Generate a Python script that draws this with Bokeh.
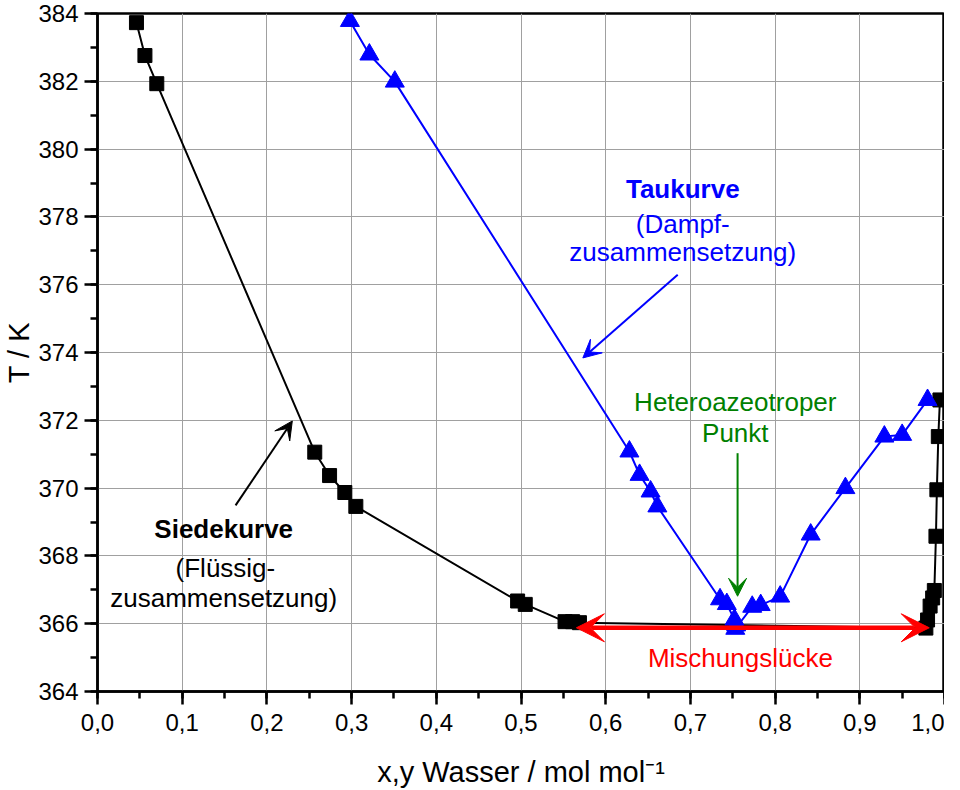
from bokeh.plotting import figure
from bokeh.models import (ColumnDataSource, Range1d, SingleIntervalTicker,
                          CustomJSTickFormatter, Arrow, VeeHead)
from bokeh.core.properties import value
from bokeh.embed import file_html
from bokeh.resources import INLINE

# Siedekurve (Flüssigzusammensetzung)
siede_x = [0.046, 0.056, 0.070, 0.2565, 0.274, 0.292, 0.305, 0.496, 0.505,
           0.552, 0.561, 0.569, 0.978, 0.980, 0.983, 0.986, 0.988, 0.9899,
           0.991, 0.9927, 0.9946]
siede_T = [383.73, 382.76, 381.93, 371.06, 370.37, 369.87, 369.46, 366.67, 366.57,
           366.06, 366.06, 366.03, 365.87, 366.11, 366.52, 366.76, 366.98, 368.58,
           369.95, 371.52, 372.60]

# Taukurve (Dampfzusammensetzung)
tau_y = [0.298, 0.321, 0.351, 0.628, 0.640, 0.653, 0.661, 0.735, 0.743, 0.752,
         0.754, 0.753, 0.773, 0.783, 0.806, 0.842, 0.883, 0.929, 0.950, 0.980]
tau_T = [383.78, 382.79, 381.99, 371.08, 370.39, 369.90, 369.46, 366.72, 366.58, 366.12,
         365.95, 365.85, 366.50, 366.55, 366.80, 368.63, 370.00, 371.52, 371.57, 372.60]

# Beschriftungen
lbl_x = [0.691, 0.691, 0.691, 0.149, 0.151, 0.149, 0.753, 0.753, 0.759]
lbl_T = [378.82, 377.79, 376.96, 368.79, 367.64, 366.76, 372.55, 371.62, 365.00]
lbl_text = ["Taukurve", "(Dampf-", "zusammensetzung)",
            "Siedekurve", "(Flüssig-", "zusammensetzung)",
            "Heteroazeotroper", "Punkt", "Mischungslücke"]
lbl_color = ["#0000ff", "#0000ff", "#0000ff", "black", "black", "black",
             "#008000", "#008000", "#ff0000"]
lbl_style = ["bold", "normal", "normal", "bold", "normal", "normal",
             "normal", "normal", "normal"]

# Pfeile: (x_start, T_start, x_end, T_end)
pfeil_siede = [0.163, 369.49, 0.230, 371.98]
pfeil_tau = [0.685, 376.29, 0.573, 373.84]
pfeil_azeo = [0.7557, 371.03, 0.7557, 366.81]
pfeil_luecke = [0.5654, 365.88, 0.982, 365.88]

FONT = "Liberation Sans"

p = figure(width=944, height=790,
           x_range=Range1d(0, 1), y_range=Range1d(364, 384),
           x_axis_label="x,y Wasser / mol mol\u207b\u00b9", y_axis_label="T / K",
           min_border_left=95, min_border_right=0, min_border_top=13, min_border_bottom=0,
           output_backend="svg", toolbar_location=None)

p.background_fill_color = "white"
p.outline_line_color = "black"
p.outline_line_width = 2.5

p.xaxis.ticker = SingleIntervalTicker(interval=0.1, num_minor_ticks=2)
p.yaxis.ticker = SingleIntervalTicker(interval=2, num_minor_ticks=2)
p.xaxis.formatter = CustomJSTickFormatter(code="return tick.toFixed(1).replace('.', ',');")

for ax in (p.xaxis, p.yaxis):
    ax.axis_line_color = "black"
    ax.axis_line_width = 2.5
    ax.major_tick_line_color = "black"
    ax.major_tick_line_width = 2.5
    ax.minor_tick_line_color = "black"
    ax.minor_tick_line_width = 2.5
    ax.major_tick_in = 0
    ax.major_tick_out = 13
    ax.minor_tick_in = 0
    ax.minor_tick_out = 7
    ax.major_label_text_font = FONT
    ax.major_label_text_font_size = "24px"
    ax.major_label_text_color = "black"
    ax.axis_label_text_font = FONT
    ax.axis_label_text_font_size = "29px"
    ax.axis_label_text_font_style = "normal"
    ax.axis_label_text_color = "black"

p.xaxis.major_label_standoff = 9
p.xaxis.axis_label_standoff = 22
p.yaxis.major_label_standoff = 6
p.yaxis.axis_label_standoff = 0

p.xgrid.grid_line_color = "#a0a0a0"
p.ygrid.grid_line_color = "#a0a0a0"
p.xgrid.grid_line_width = 1
p.ygrid.grid_line_width = 1

# Kurven
p.line(siede_x, siede_T, line_color="black", line_width=2)
p.scatter(siede_x, siede_T, marker="square", size=14, fill_color="black", line_color="black")

p.line(tau_y, tau_T, line_color="#0000ff", line_width=2)
p.scatter(tau_y, tau_T, marker="triangle", size=19, fill_color="#0000ff", line_color="#0000ff")

# Pfeile
def add_arrow(coords, color, width, head_size, both=False):
    x0, y0, x1, y1 = coords
    end = VeeHead(size=head_size, fill_color=color, line_color=color, line_width=1)
    start = VeeHead(size=head_size, fill_color=color, line_color=color, line_width=1) if both else None
    p.add_layout(Arrow(x_start=x0, y_start=y0, x_end=x1, y_end=y1,
                       line_color=color, line_width=width, end=end, start=start))

add_arrow(pfeil_siede, "black", 2, 18)
add_arrow(pfeil_tau, "#0000ff", 2, 18)
add_arrow(pfeil_azeo, "#008000", 2, 18)
add_arrow(pfeil_luecke, "#ff0000", 4.5, 28, both=True)

src = ColumnDataSource(dict(x=lbl_x, y=lbl_T, text=lbl_text, color=lbl_color, style=lbl_style))
p.text(x="x", y="y", text="text", source=src, text_color="color", text_font_style="style",
       text_font=value(FONT), text_font_size="26px",
       text_align="center", text_baseline="middle")

open("out.html", "w").write(file_html(p, INLINE))
